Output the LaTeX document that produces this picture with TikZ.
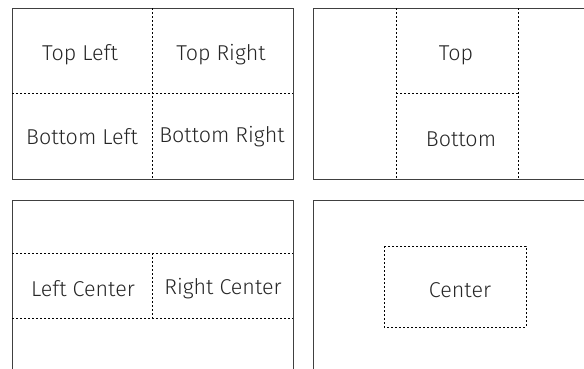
\documentclass[tikz,border=0pt]{standalone}
\usepackage{fontspec}
\setmainfont{Fira Sans Light}
\usepackage{tikz}

\tikzset{
	panel/.style={draw=black!75, line width=1pt},
	guide/.style={draw=black, line width=0.7pt, dash pattern=on 2pt off 2pt},
	lbl/.style={font=\fontsize{21.5}{24}\selectfont, text=black!85, inner sep=0pt}
}

\begin{document}
\begin{tikzpicture}[x=1pt, y=-1pt]
				\useasboundingbox (0,0) rectangle (584,368);
				\clip (0,0) rectangle (584,368);
				
				\draw[panel] (12,8) rectangle (293,179);
				\draw[guide] (152,8) -- (152,179);
				\draw[guide] (12,93) -- (293,93);
				\node[lbl] (tl) at (80,55) {Top Left};
				\node[lbl] (tr) at (221,55) {Top Right};
				\node[lbl] (bl) at (82,137) {Bottom Left};
				\node[lbl] (br) at (222,137) {Bottom Right};
				
				\draw[panel] (313,8) rectangle (600,179);
				\draw[guide] (396,8) -- (396,179);
				\draw[guide] (518,8) -- (518,179);
				\draw[guide] (396,93) -- (518,93);
				\node[lbl] (top) at (456,55) {Top};
				\node[lbl] (bottom) at (461,139) {Bottom};
				
				\draw[panel] (12,200) rectangle (293,380);
				\draw[guide] (12,253) -- (293,253);
				\draw[guide] (12,318) -- (293,318);
				\draw[guide] (152,253) -- (152,318);
				\node[lbl] (lc) at (83,289) {Left Center};
				\node[lbl] (rc) at (223,289) {Right Center};
				
				\draw[panel] (313,200) rectangle (600,380);
				\draw[guide] (384,246) rectangle (526,327);
				\node[lbl] (c) at (460,290) {Center};
			\end{tikzpicture}
\end{document}
